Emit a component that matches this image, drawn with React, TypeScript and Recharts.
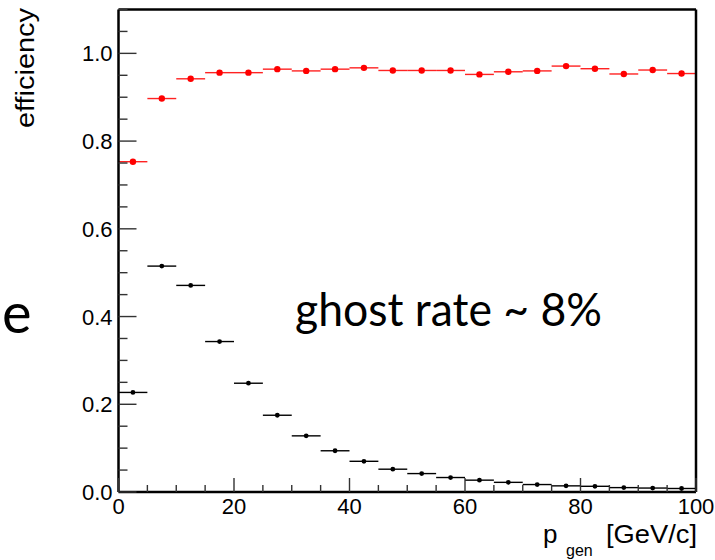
import { ComposedChart, Scatter, ErrorBar, XAxis, YAxis, Label } from "recharts";

// 5 GeV bins, centres
const binCenters = [2.5, 7.5, 12.5, 17.5, 22.5, 27.5, 32.5, 37.5, 42.5, 47.5, 52.5, 57.5, 62.5, 67.5, 72.5, 77.5, 82.5, 87.5, 92.5, 97.5];
const binHalfWidth = 2.5;

// red: reconstruction efficiency
const efficiency = [0.753, 0.897, 0.942, 0.956, 0.956, 0.964, 0.96, 0.964, 0.967, 0.961, 0.961, 0.961, 0.952, 0.958, 0.96, 0.971, 0.965, 0.953, 0.962, 0.954];
const efficiencyErr = [0.003, 0.002, 0.002, 0.002, 0.002, 0.002, 0.002, 0.002, 0.002, 0.002, 0.002, 0.002, 0.003, 0.003, 0.003, 0.003, 0.003, 0.005, 0.004, 0.006];

// black: second distribution
const ghost = [0.227, 0.515, 0.471, 0.343, 0.248, 0.175, 0.128, 0.094, 0.07, 0.052, 0.042, 0.033, 0.027, 0.022, 0.017, 0.014, 0.013, 0.01, 0.009, 0.008];

const xTicks = [0, 5, 10, 15, 20, 25, 30, 35, 40, 45, 50, 55, 60, 65, 70, 75, 80, 85, 90, 95, 100];
const yTicks = [0, 0.05, 0.1, 0.15, 0.2, 0.25, 0.3, 0.35, 0.4, 0.45, 0.5, 0.55, 0.6, 0.65, 0.7, 0.75, 0.8, 0.85, 0.9, 0.95, 1.0, 1.05, 1.1];

const redData = binCenters.map((x, i) => ({ x, y: efficiency[i], ex: binHalfWidth, ey: efficiencyErr[i] }));
const blackData = binCenters.map((x, i) => ({ x, y: ghost[i], ex: binHalfWidth }));

const FONT = "'Liberation Sans', Arial, Helvetica, sans-serif";
const TICK = "#333";

const isXMajor = (v: number) => v % 20 === 0;
const isYMajor = (v: number) => Math.abs(v * 5 - Math.round(v * 5)) < 1e-6;

const XTickBottom = (props: any) => {
  const { x, y, payload } = props;
  const v = payload.value;
  const major = isXMajor(v);
  return (
    <g>
      <line x1={x} x2={x} y1={y} y2={y - (major ? 14 : 7)} stroke={TICK} strokeWidth={1.4} />
      {major && (
        <text x={x} y={y + 22} textAnchor="middle" fontSize={22} fontFamily={FONT} fill="#000">
          {v}
        </text>
      )}
    </g>
  );
};

const XTickTop = (props: any) => {
  const { x, y, payload } = props;
  const major = isXMajor(payload.value);
  return <line x1={x} x2={x} y1={y} y2={y + (major ? 14 : 7)} stroke={TICK} strokeWidth={1.4} />;
};

const YTickLeft = (props: any) => {
  const { x, y, payload } = props;
  const v = payload.value;
  const major = isYMajor(v);
  return (
    <g>
      <line x1={x} x2={x + (major ? 18 : 9)} y1={y} y2={y} stroke={TICK} strokeWidth={1.4} />
      {major && v <= 1.0001 && (
        <text x={x - 6} y={y + 8} textAnchor="end" fontSize={22} fontFamily={FONT} fill="#000">
          {v.toFixed(1)}
        </text>
      )}
    </g>
  );
};

const YTickRight = (props: any) => {
  const { x, y, payload } = props;
  const major = isYMajor(payload.value);
  return <line x1={x} x2={x - (major ? 18 : 9)} y1={y} y2={y} stroke={TICK} strokeWidth={1.4} />;
};

const YTitle = () => (
  <text
    x={34}
    y={8}
    transform="rotate(-90, 34, 8)"
    textAnchor="end"
    fontSize={26}
    fontFamily={FONT}
    fill="#000"
    textLength={120}
    lengthAdjust="spacingAndGlyphs"
  >
    efficiency
  </text>
);

const XTitle = () => (
  <g fontFamily={FONT} fill="#000">
    <text x={543} y={543} fontSize={26}>p</text>
    <text x={566} y={556} fontSize={16}>gen</text>
    <text x={606} y={543} fontSize={26} textLength={91} lengthAdjust="spacingAndGlyphs">
      [GeV/c]
    </text>
  </g>
);

const RedDot = (props: any) => <circle cx={props.cx} cy={props.cy} r={3.2} fill="#ff0000" />;
const BlackDot = (props: any) => <circle cx={props.cx} cy={props.cy} r={2.4} fill="#000" />;

export default function App() {
  return (
    <div style={{ position: "absolute", left: 0, top: 0, width: 715, height: 560, background: "#fff" }}>
      <ComposedChart width={715} height={560} margin={{ top: 0, right: 0, bottom: 0, left: 0 }}>
        <XAxis
          xAxisId="b"
          dataKey="x"
          type="number"
          domain={[0, 100]}
          ticks={xTicks}
          interval={0}
          orientation="bottom"
          height={68}
          tickSize={0}
          tickMargin={0}
          tick={<XTickBottom />}
          axisLine={{ stroke: "#000", strokeWidth: 2.5 }}
          tickLine={false}
        >
          <Label content={<XTitle />} />
        </XAxis>
        <XAxis
          xAxisId="t"
          dataKey="x"
          type="number"
          domain={[0, 100]}
          ticks={xTicks}
          interval={0}
          orientation="top"
          height={9.5}
          tickSize={0}
          tickMargin={0}
          tick={<XTickTop />}
          axisLine={{ stroke: "#000", strokeWidth: 2.5 }}
          tickLine={false}
        />
        <YAxis
          yAxisId="l"
          type="number"
          domain={[0, 1.1]}
          ticks={yTicks}
          interval={0}
          orientation="left"
          width={118.5}
          tickSize={0}
          tickMargin={0}
          tick={<YTickLeft />}
          axisLine={{ stroke: "#000", strokeWidth: 2.5 }}
          tickLine={false}
        >
          <Label content={<YTitle />} />
        </YAxis>
        <YAxis
          yAxisId="r"
          type="number"
          domain={[0, 1.1]}
          ticks={yTicks}
          interval={0}
          orientation="right"
          width={19}
          tickSize={0}
          tickMargin={0}
          tick={<YTickRight />}
          axisLine={{ stroke: "#000", strokeWidth: 2.5 }}
          tickLine={false}
        />
        <Scatter
          data={blackData}
          dataKey="y"
          xAxisId="b"
          yAxisId="l"
          shape={<BlackDot />}
          isAnimationActive={false}
        >
          <ErrorBar dataKey="ex" direction="x" width={0} stroke="#000" strokeWidth={1.4} />
        </Scatter>
        <Scatter
          data={redData}
          dataKey="y"
          xAxisId="b"
          yAxisId="l"
          shape={<RedDot />}
          isAnimationActive={false}
        >
          <ErrorBar dataKey="ex" direction="x" width={0} stroke="#f22" strokeWidth={1.4} />
          <ErrorBar dataKey="ey" direction="y" width={0} stroke="#f22" strokeWidth={1.4} />
        </Scatter>
      </ComposedChart>
      <svg
        width={715}
        height={560}
        style={{ position: "absolute", left: 0, top: 0, pointerEvents: "none" }}
      >
        <text
          x={295}
          y={326}
          fontSize={46}
          fontFamily="Lato, 'Open Sans', sans-serif"
          fill="#000"
          textLength={307}
          lengthAdjust="spacingAndGlyphs"
        >
          ghost rate ~ 8%
        </text>
        <text x={2} y={333} fontSize={56} fontFamily="Lato, 'Open Sans', sans-serif" fill="#000">
          e
        </text>
      </svg>
    </div>
  );
}
